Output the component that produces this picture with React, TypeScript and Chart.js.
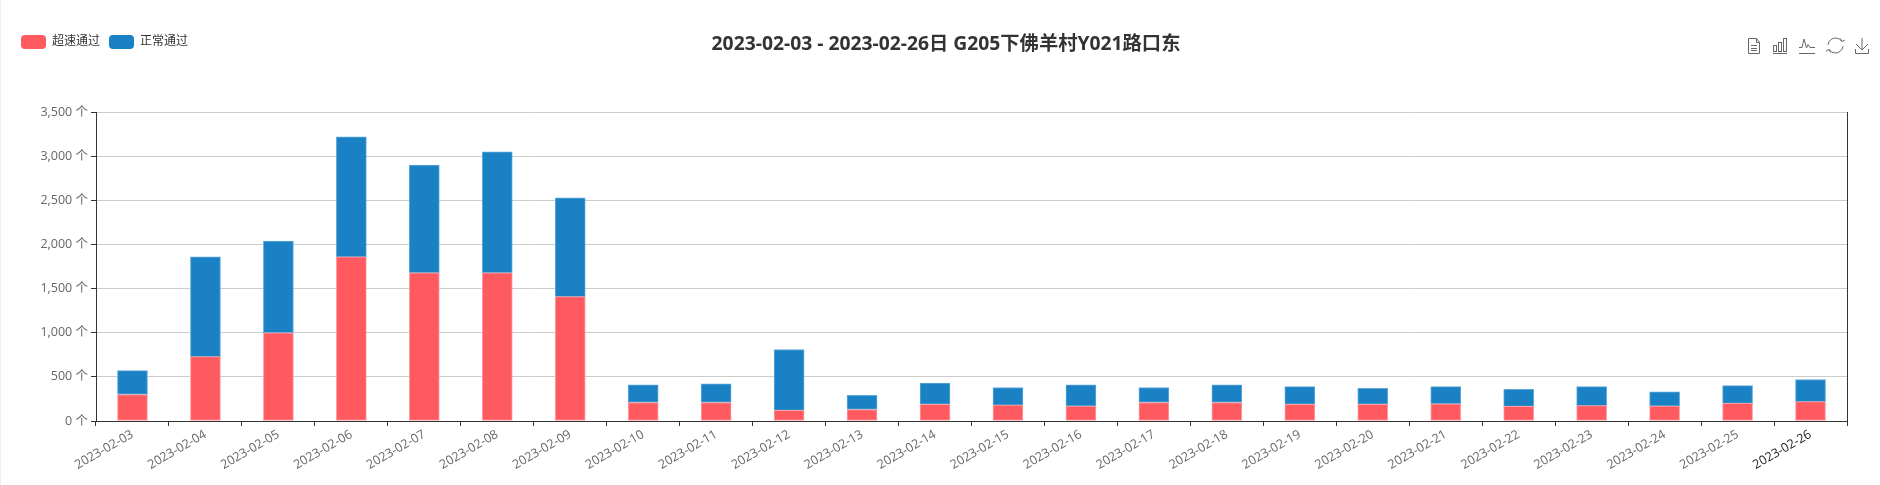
import React, { useEffect, useRef } from "react";
import { Chart, registerables } from "chart.js";

Chart.register(...registerables);

const dates = ["2023-02-03","2023-02-04","2023-02-05","2023-02-06","2023-02-07","2023-02-08","2023-02-09","2023-02-10","2023-02-11","2023-02-12","2023-02-13","2023-02-14","2023-02-15","2023-02-16","2023-02-17","2023-02-18","2023-02-19","2023-02-20","2023-02-21","2023-02-22","2023-02-23","2023-02-24","2023-02-25","2023-02-26"];
const speeding = [300,730,1000,1860,1680,1680,1410,210,210,120,130,190,180,170,210,210,190,190,195,165,175,170,200,220];
const normal = [270,1130,1040,1360,1220,1370,1120,200,210,690,160,240,200,240,170,200,200,180,195,195,215,160,200,250];
const chartTitle = "2023-02-03 - 2023-02-26日 G205下佛羊村Y021路口东";
const FONT = '"Open Sans","Noto Sans CJK SC",sans-serif';

const layoutFix = {
  id: "layoutFix",
  afterLayout(chart: any) {
    const t = chart.titleBlock;
    if (t) {
      t.left = 12;
      t.right = 1880;
      t.top = 33;
      t.bottom = 59;
    }
  },
};

const toolbox = {
  id: "toolbox",
  afterDraw(chart: any) {
    const c = chart.ctx;
    c.save();
    c.strokeStyle = "#666";
    c.lineWidth = 1;
    const line = (pts: number[][]) => {
      c.beginPath();
      pts.forEach((p, i) => (i ? c.lineTo(p[0], p[1]) : c.moveTo(p[0], p[1])));
      c.stroke();
    };
    line([[1748.5,38.5],[1756.5,38.5],[1759.5,42.5],[1759.5,53.5],[1748.5,53.5],[1748.5,38.5]]);
    line([[1756.5,38.5],[1756.5,42.5],[1759.5,42.5]]);
    line([[1751,45.5],[1757,45.5]]);
    line([[1751,48.5],[1757,48.5]]);
    line([[1751,50.5],[1757,50.5]]);
    c.strokeRect(1773.5,45.5,3,6);
    c.strokeRect(1778.5,42.5,3,9);
    c.strokeRect(1783.5,38.5,3,13);
    line([[1773,53.5],[1787,53.5]]);
    line([[1799,47.5],[1802,47.5],[1804,39],[1806.5,48],[1808,44.5],[1810,47.5],[1815,47.5]]);
    line([[1799,53.5],[1815,53.5]]);
    c.beginPath(); c.arc(1835.5,45.5,7.5,Math.PI+0.1,2*Math.PI-0.6); c.stroke();
    c.beginPath(); c.arc(1835.5,45.5,7.5,0.1,Math.PI-0.6); c.stroke();
    line([[1840.5,38.5],[1842,41.5],[1845,40]]);
    line([[1826,51],[1829,49.5],[1830.5,52.5]]);
    line([[1862,38],[1862,50]]);
    line([[1856,44],[1862,50],[1868,44]]);
    line([[1855.5,49],[1855.5,53.5],[1868.5,53.5],[1868.5,49]]);
    c.restore();
  },
};

export default function App() {
  const ref = useRef<HTMLCanvasElement>(null);
  useEffect(() => {
    document.body.style.margin = "0";
    document.body.style.background = "#fff";
    const chart = new Chart(ref.current!, {
      type: "bar",
      data: {
        labels: dates,
        datasets: [
          { label: "超速通过", data: speeding, backgroundColor: "#ff5a60", borderColor: "#ff9ea2", borderWidth: 1, borderSkipped: false, barThickness: 30, stack: "a" },
          { label: "正常通过", data: normal, backgroundColor: "#1a82c4", borderColor: "#5ea8da", borderWidth: 1, borderSkipped: false, barThickness: 30, stack: "a" },
        ],
      },
      options: {
        responsive: false,
        animation: false,
        devicePixelRatio: 1,
        layout: { padding: { top: 26, left: 12, right: 33, bottom: 0 } },
        plugins: {
          tooltip: { enabled: false },
          title: {
            display: true,
            text: chartTitle,
            color: "#333",
            weight: 500,
            font: { family: FONT, size: 19.3, weight: "bold" },
            padding: { top: 0, bottom: 30 },
          },
          legend: {
            display: true,
            position: "top",
            align: "start",
            labels: {
              boxWidth: 25,
              boxHeight: 14,
              useBorderRadius: true,
              borderRadius: 4,
              padding: 9,
              color: "#333",
              font: { family: FONT, size: 12 },
              generateLabels: (ch: any) =>
                ch.data.datasets.map((d: any, i: number) => ({
                  text: d.label,
                  fillStyle: d.backgroundColor,
                  strokeStyle: d.backgroundColor,
                  lineWidth: 0,
                  fontColor: "#333",
                  datasetIndex: i,
                  borderRadius: 4,
                })),
            },
          },
        },
        scales: {
          x: {
            stacked: true,
            border: { color: "#333", width: 1 },
            grid: {
              drawOnChartArea: false,
              tickLength: 5,
              offset: true,
              tickColor: (ctx: any) => (ctx.index >= dates.length ? "rgba(0,0,0,0)" : "#333"),
            },
            ticks: {
              autoSkip: false,
              minRotation: 30,
              maxRotation: 30,
              padding: 1,
              color: (ctx: any) => (ctx.index === dates.length - 1 ? "#222" : "#666"),
              font: { family: FONT, size: 12.5 },
            },
            afterFit: (s: any) => { s.height = 64; },
          },
          y: {
            stacked: true,
            min: 0,
            max: 3500,
            border: { color: "#333", width: 1 },
            grid: { color: "#ccc", tickColor: "#333", tickLength: 5 },
            ticks: {
              stepSize: 500,
              padding: 3,
              color: "#666",
              font: { family: FONT, size: 12.5 },
              callback: (v: any) => Number(v).toLocaleString("en-US") + " 个",
            },
            afterFit: (s: any) => { s.width = 84; },
          },
          y1: {
            position: "right",
            min: 0,
            max: 3500,
            border: { color: "#333", width: 1 },
            grid: { display: false },
            ticks: { display: false },
            afterFit: (s: any) => { s.width = 0; },
          },
        },
      } as any,
      plugins: [layoutFix, toolbox],
    });
    return () => chart.destroy();
  }, []);
  return (
    <div style={{ position: "relative", width: 1880, height: 485, overflow: "hidden", background: "#fff" }}>
      <div style={{ position: "absolute", left: 0, top: 0, width: 1, height: 485, background: "#eee" }} />
      <canvas ref={ref} width={1880} height={485} style={{ display: "block", width: 1880, height: 485 }} />
    </div>
  );
}
